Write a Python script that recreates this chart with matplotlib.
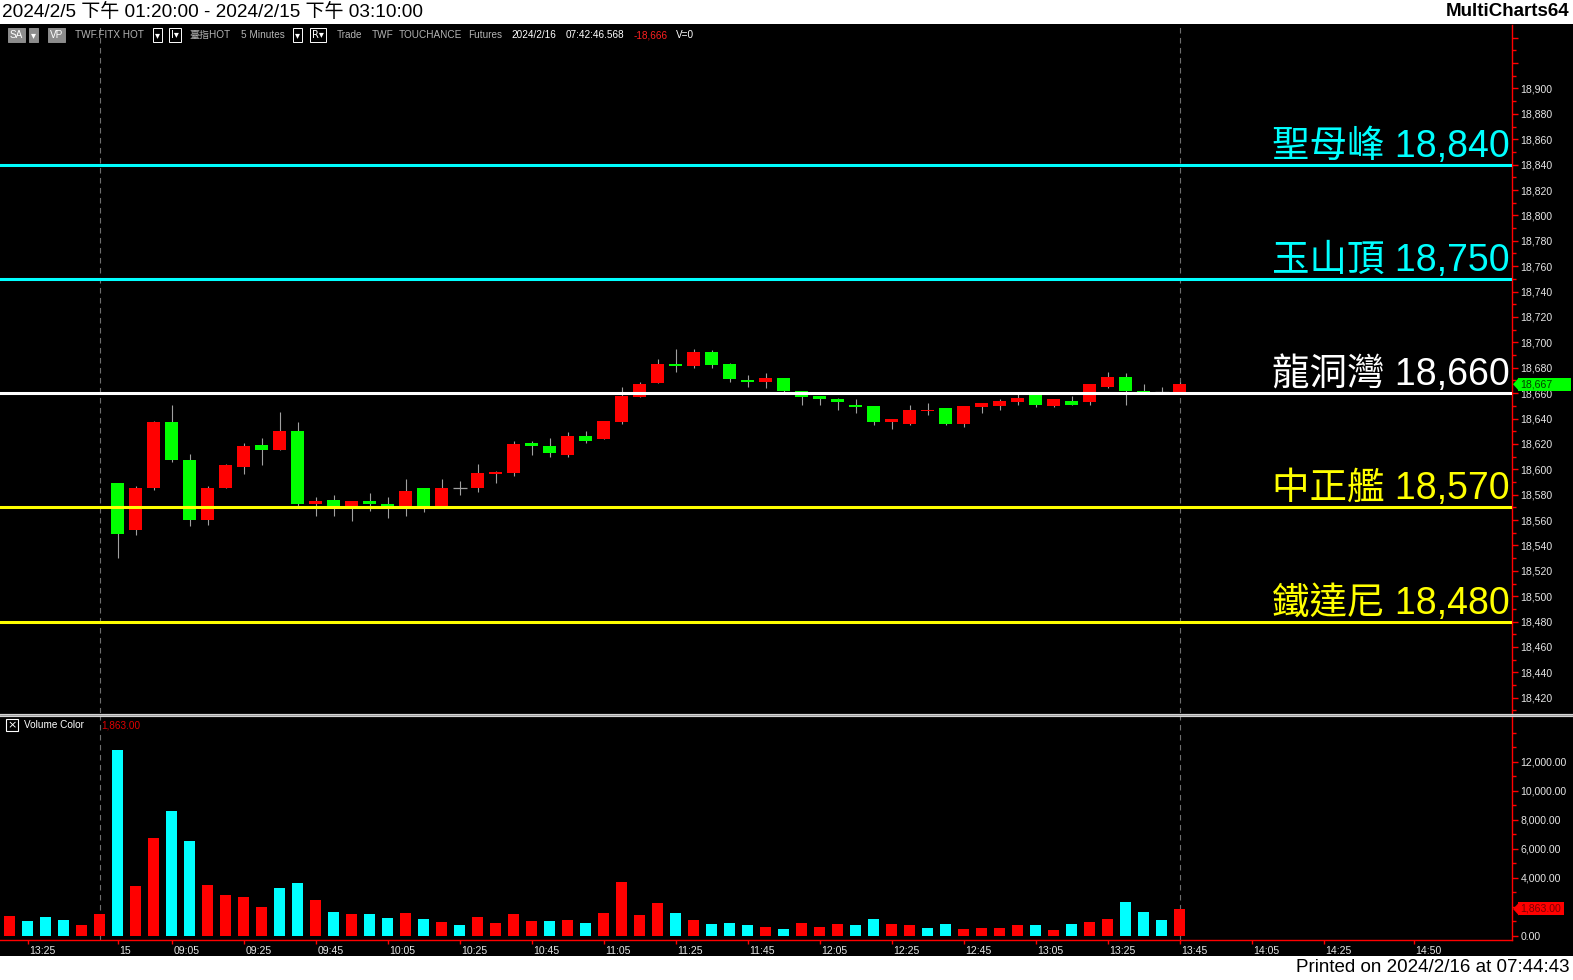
import matplotlib
matplotlib.use('Agg')
import matplotlib.pyplot as plt
import numpy as np
import matplotlib.transforms as mtransforms
from matplotlib.patches import Rectangle, Polygon
from matplotlib.ticker import FixedLocator, FuncFormatter

plt.rcParams['font.family'] = ['Liberation Sans', 'Noto Sans CJK TC', 'DejaVu Sans']

# ---------------- data ----------------
session_start = 6  # first bar index of the 2/15 session (bars 0-5 are 2/5 13:20-13:45)
opens = [18589, 18552, 18585, 18637, 18607, 18560, 18585, 18602, 18619, 18615,
         18630, 18573, 18576, 18570, 18575, 18573, 18570, 18585, 18570, 18585,
         18585, 18596, 18597, 18621, 18618, 18611, 18626, 18624, 18637, 18657,
         18668, 18683, 18681, 18692, 18683, 18670, 18669, 18672, 18662, 18658,
         18655, 18651, 18650, 18637, 18636, 18646, 18648, 18636, 18649, 18650,
         18653, 18659, 18650, 18654, 18653, 18665, 18673, 18662, 18661, 18661]
highs = [18589, 18587, 18638, 18651, 18612, 18587, 18604, 18621, 18625, 18645,
         18637, 18578, 18580, 18575, 18581, 18578, 18592, 18585, 18592, 18591,
         18604, 18599, 18622, 18622, 18625, 18629, 18630, 18638, 18665, 18669,
         18687, 18695, 18695, 18694, 18684, 18674, 18676, 18672, 18662, 18658,
         18656, 18655, 18650, 18640, 18651, 18652, 18648, 18650, 18652, 18655,
         18661, 18661, 18655, 18658, 18667, 18677, 18676, 18667, 18665, 18669]
lows = [18530, 18548, 18584, 18606, 18555, 18556, 18585, 18596, 18603, 18615,
        18571, 18563, 18563, 18559, 18567, 18562, 18563, 18566, 18570, 18580,
        18582, 18589, 18595, 18611, 18610, 18610, 18621, 18624, 18636, 18657,
        18668, 18677, 18680, 18680, 18669, 18665, 18664, 18661, 18651, 18651,
        18647, 18644, 18635, 18632, 18635, 18643, 18635, 18633, 18644, 18647,
        18651, 18649, 18649, 18651, 18651, 18664, 18651, 18660, 18660, 18660]
closes = [18549, 18585, 18637, 18607, 18560, 18585, 18603, 18618, 18615, 18630,
          18573, 18575, 18570, 18575, 18573, 18570, 18583, 18570, 18585, 18585,
          18597, 18598, 18620, 18618, 18613, 18626, 18622, 18638, 18658, 18667,
          18683, 18681, 18692, 18682, 18671, 18669, 18672, 18662, 18657, 18655,
          18653, 18649, 18637, 18640, 18647, 18647, 18636, 18650, 18652, 18654,
          18656, 18651, 18655, 18651, 18667, 18673, 18662, 18660, 18661, 18667]
volumes = [1345, 1000, 1276, 1069, 724, 1483, 12793, 3414, 6724, 8586,
           6517, 3483, 2793, 2655, 2034, 3276, 3621, 2517, 1621, 1483,
           1483, 1207, 1552, 1138, 931, 724, 1276, 862, 1483, 1000,
           1000, 1069, 862, 1552, 3690, 1414, 2310, 1552, 1069, 793,
           862, 724, 655, 517, 862, 655, 793, 724, 1138, 793,
           724, 586, 793, 517, 586, 586, 724, 724, 448, 793,
           931, 1138, 2379, 1621, 1069, 1863]
vol_up = [1, 0, 0, 0, 1, 1, 0, 1, 1, 0,
          0, 1, 1, 1, 1, 0, 0, 1, 0, 1,
          0, 0, 1, 0, 1, 0, 1, 1, 1, 1,
          0, 1, 0, 1, 1, 1, 1, 0, 1, 0,
          0, 0, 1, 0, 1, 1, 1, 0, 0, 1,
          1, 0, 0, 1, 1, 1, 1, 0, 1, 0,
          1, 1, 0, 0, 0, 1]
levels = [18840, 18750, 18660, 18570, 18480]
level_names = ['聖母峰', '玉山頂', '龍洞灣', '中正艦', '鐵達尼']
level_colors = ['#00ffff', '#00ffff', '#ffffff', '#ffff00', '#ffff00']
x_tick_bars = [1, 6, 9, 13, 17, 21, 25, 29, 33, 37, 41, 45, 49, 53, 57, 61, 65, 69, 73, 78]
x_tick_labels = ['13:25', '15', '09:05', '09:25', '09:45', '10:05', '10:25', '10:45',
                 '11:05', '11:25', '11:45', '12:05', '12:25', '12:45', '13:05', '13:25',
                 '13:45', '14:05', '14:25', '14:50']
session_break_bar = 5
last_bar = 65
last_price = 18667
last_volume = 1863

# ---------------- figure ----------------
W, H = 1573, 980
fig = plt.figure(figsize=(W / 100, H / 100), dpi=100, facecolor='white')


def fx(px):
    return px / W


def fy(py):
    return 1 - py / H


fig.patches.append(Rectangle((0, fy(956)), 1, (956 - 24) / H, transform=fig.transFigure,
                             facecolor='black', edgecolor='none', zorder=-10))

AX_R = 1512
ax_p = fig.add_axes([0, fy(713), fx(AX_R), (713 - 25) / H])
ax_v = fig.add_axes([0, fy(940), fx(AX_R), (940 - 716) / H])
XLIM = (-0.53, 83.47)

TICK_FS = 7.6
LBL_COL = '#e6e6e6'

for ax in (ax_p, ax_v):
    ax.set_facecolor('black')
    for s in ('top', 'left', 'bottom'):
        ax.spines[s].set_visible(False)
    ax.spines['right'].set_color('#ff0000')
    ax.spines['right'].set_linewidth(1.0)
    ax.axvline(session_break_bar, color='#6e6e6e', lw=0.8, dashes=(5, 4), zorder=1)
    ax.axvline(last_bar, color='#6e6e6e', lw=0.8, dashes=(5, 4), zorder=1)

# ---- candles ----
o = np.array(opens, float)
h = np.array(highs, float)
l = np.array(lows, float)
c = np.array(closes, float)
x = np.arange(session_start, session_start + len(o))
up = c > o
dn = c < o
dj = c == o
ax_p.vlines(x, l, h, color='#a0a0a0', lw=0.8, zorder=2)
bb = np.minimum(o, c)
bh = np.abs(c - o)
ax_p.bar(x[up], bh[up], bottom=bb[up], width=0.72, color='#ff0000', linewidth=0, zorder=3)
ax_p.bar(x[dn], bh[dn], bottom=bb[dn], width=0.72, color='#00ff00', linewidth=0, zorder=3)
ax_p.hlines(o[dj], x[dj] - 0.39, x[dj] + 0.39, color='#a0a0a0', lw=0.9, zorder=3)

# ---- levels ----
for lv, nm, col in zip(levels, level_names, level_colors):
    ax_p.axhline(lv, color=col, lw=2.2, zorder=4)
    ax_p.annotate(f'{nm} {lv:,}', xy=(1, lv), xycoords=ax_p.get_yaxis_transform(),
                  xytext=(-2, 8), textcoords='offset pixels', ha='right', va='baseline',
                  fontsize=27, color=col, zorder=5)

# ---- price axis ----
ax_p.set_xlim(*XLIM)
ax_p.set_xticks([])
ax_p.yaxis.tick_right()
ax_p.yaxis.set_major_locator(FixedLocator(np.arange(18420, 18941, 20)))
ax_p.yaxis.set_major_formatter(FuncFormatter(lambda v, _: f'{int(round(v)):,}' if v <= 18900 else ''))
ax_p.yaxis.set_minor_locator(FixedLocator(np.arange(18410, 18950, 10)))
ax_p.tick_params(axis='y', which='major', colors='#ff0000', labelcolor=LBL_COL, length=4,
                 width=1, labelsize=TICK_FS, pad=2)
ax_p.tick_params(axis='y', which='minor', colors='#ff0000', length=3, width=1)

# last price marker
bt = mtransforms.blended_transform_factory(fig.transFigure, ax_p.transData)
ph = 5.2
ax_p.add_patch(Rectangle((fx(1518), last_price - ph), fx(1571) - fx(1518), 2 * ph, transform=bt,
                         facecolor='#00ff00', edgecolor='none', clip_on=False, zorder=10))
ax_p.add_patch(Polygon([(fx(1513), last_price), (fx(1519), last_price + ph), (fx(1519), last_price - ph)],
                       closed=True, transform=bt, facecolor='#00ff00', edgecolor='none',
                       clip_on=False, zorder=10))
ax_p.text(fx(1520), last_price, f'{last_price:,}', transform=bt, ha='left', va='center',
          fontsize=TICK_FS, color='#004000', zorder=11, clip_on=False)
ax_p.set_ylim(18408, 18950)

# ---- volume ----
vcols = ['#ff0000' if u else '#00ffff' for u in vol_up]
ax_v.bar(np.arange(len(volumes)), volumes, width=0.61, color=vcols, linewidth=0, zorder=2)
ax_v.set_xlim(*XLIM)
ax_v.spines['bottom'].set_visible(True)
ax_v.spines['bottom'].set_color('#ff0000')
ax_v.spines['bottom'].set_linewidth(1.0)
ax_v.yaxis.tick_right()
ax_v.yaxis.set_major_locator(FixedLocator(np.arange(0, 12001, 2000)))
ax_v.yaxis.set_major_formatter(FuncFormatter(lambda v, _: f'{v:,.2f}'))
ax_v.yaxis.set_minor_locator(FixedLocator(np.arange(1000, 14001, 1000)))
ax_v.tick_params(axis='y', which='major', colors='#ff0000', labelcolor=LBL_COL, length=4,
                 width=1, labelsize=TICK_FS, pad=2)
ax_v.tick_params(axis='y', which='minor', colors='#ff0000', length=3, width=1)
ax_v.set_xticks(x_tick_bars)
ax_v.set_xticklabels(x_tick_labels)
ax_v.tick_params(axis='x', colors='#ff0000', labelcolor=LBL_COL, length=3, width=1,
                 labelsize=TICK_FS, pad=1.5)
offs = mtransforms.ScaledTranslation(2 / 100, 0, fig.dpi_scale_trans)
for lab in ax_v.get_xticklabels():
    lab.set_horizontalalignment('left')
    lab.set_transform(lab.get_transform() + offs)

bv = mtransforms.blended_transform_factory(fig.transFigure, ax_v.transData)
vh = 6.5 / 0.0145
ax_v.add_patch(Rectangle((fx(1518), last_volume - vh), fx(1564) - fx(1518), 2 * vh, transform=bv,
                         facecolor='#ff0000', edgecolor='none', clip_on=False, zorder=10))
ax_v.add_patch(Polygon([(fx(1513), last_volume), (fx(1519), last_volume + vh), (fx(1519), last_volume - vh)],
                       closed=True, transform=bv, facecolor='#ff0000', edgecolor='none',
                       clip_on=False, zorder=10))
ax_v.text(fx(1520), last_volume, f'{last_volume:,.2f}', transform=bv, ha='left', va='center',
          fontsize=TICK_FS, color='#7a0000', zorder=11, clip_on=False)
ax_v.set_ylim(-276, 15172)

# separator between panels
fig.add_artist(plt.Line2D([0, 1], [fy(714.5), fy(714.5)], transform=fig.transFigure,
                          color='#d4d4d4', lw=2.3, zorder=5))
fig.add_artist(plt.Line2D([0, 1], [fy(714.5), fy(714.5)], transform=fig.transFigure,
                          color='#8a8a8a', lw=0.5, zorder=6))

# ---- header texts ----
fig.text(fx(2), fy(12), '2024/2/5 下午 01:20:00 - 2024/2/15 下午 03:10:00', ha='left', va='center',
         fontsize=13.7, color='black')
fig.text(fx(1569), fy(12), 'MultiCharts64', ha='right', va='center', fontsize=13.5,
         fontweight='bold', color='black')
fig.text(fx(1569), fy(967), 'Printed on 2024/2/16 at 07:44:43', ha='right', va='center',
         fontsize=13.5, color='black')

HY = fy(35)
SFS = 7.2
GREY = '#b4b4b4'


def boxed(xp, s, fc, ec, tc, fam=None):
    kw = dict(ha='left', va='center', fontsize=SFS, color=tc,
              bbox=dict(boxstyle='square,pad=0.18', fc=fc, ec=ec, lw=0.7))
    if fam:
        kw['family'] = fam
    fig.text(fx(xp), HY, s, **kw)


boxed(10, 'SA', '#8c8c8c', '#8c8c8c', 'white')
boxed(31, '▾', '#8c8c8c', '#8c8c8c', 'white', ['DejaVu Sans'])
boxed(50, 'VP', '#8c8c8c', '#8c8c8c', 'white')
fig.text(fx(75), HY, 'TWF.FITX HOT', ha='left', va='center', fontsize=SFS, color=GREY)
boxed(155, '▾', 'black', 'white', 'white', ['DejaVu Sans'])
boxed(171, 'I▾', 'black', 'white', 'white', ['DejaVu Sans'])
fig.text(fx(189), HY, '臺指HOT', ha='left', va='center', fontsize=SFS, color=GREY)
fig.text(fx(241), HY, '5 Minutes', ha='left', va='center', fontsize=SFS, color=GREY)
boxed(295, '▾', 'black', 'white', 'white', ['DejaVu Sans'])
boxed(312, 'R▾', 'black', 'white', 'white', ['DejaVu Sans'])
fig.text(fx(337), HY, 'Trade', ha='left', va='center', fontsize=SFS, color=GREY)
fig.text(fx(372), HY, 'TWF', ha='left', va='center', fontsize=SFS, color=GREY)
fig.text(fx(399), HY, 'TOUCHANCE', ha='left', va='center', fontsize=SFS, color=GREY)
fig.text(fx(468), HY, 'Futures', ha='left', va='center', fontsize=SFS, color=GREY)
fig.text(fx(511), HY, '2024/2/16', ha='left', va='center', fontsize=SFS, color='white')
fig.text(fx(566), HY, '07:42:46.568', ha='left', va='center', fontsize=SFS, color='white')
fig.text(fx(634), HY, '-18,666', ha='left', va='center', fontsize=SFS, color='#ff2020')
fig.text(fx(676), HY, 'V=0', ha='left', va='center', fontsize=SFS, color='white')

# volume panel header
fig.text(fx(7), fy(725), '×', ha='left', va='center', fontsize=8, color='white', family=['DejaVu Sans'],
         bbox=dict(boxstyle='square,pad=0.12', fc='black', ec='white', lw=0.8))
fig.text(fx(24), fy(725), 'Volume Color', ha='left', va='center', fontsize=SFS, color='white')
fig.text(fx(101), fy(725), f'{last_volume:,.2f}', ha='left', va='center', fontsize=SFS, color='#e00000')

fig.savefig('out.png', dpi=100, facecolor='white')
